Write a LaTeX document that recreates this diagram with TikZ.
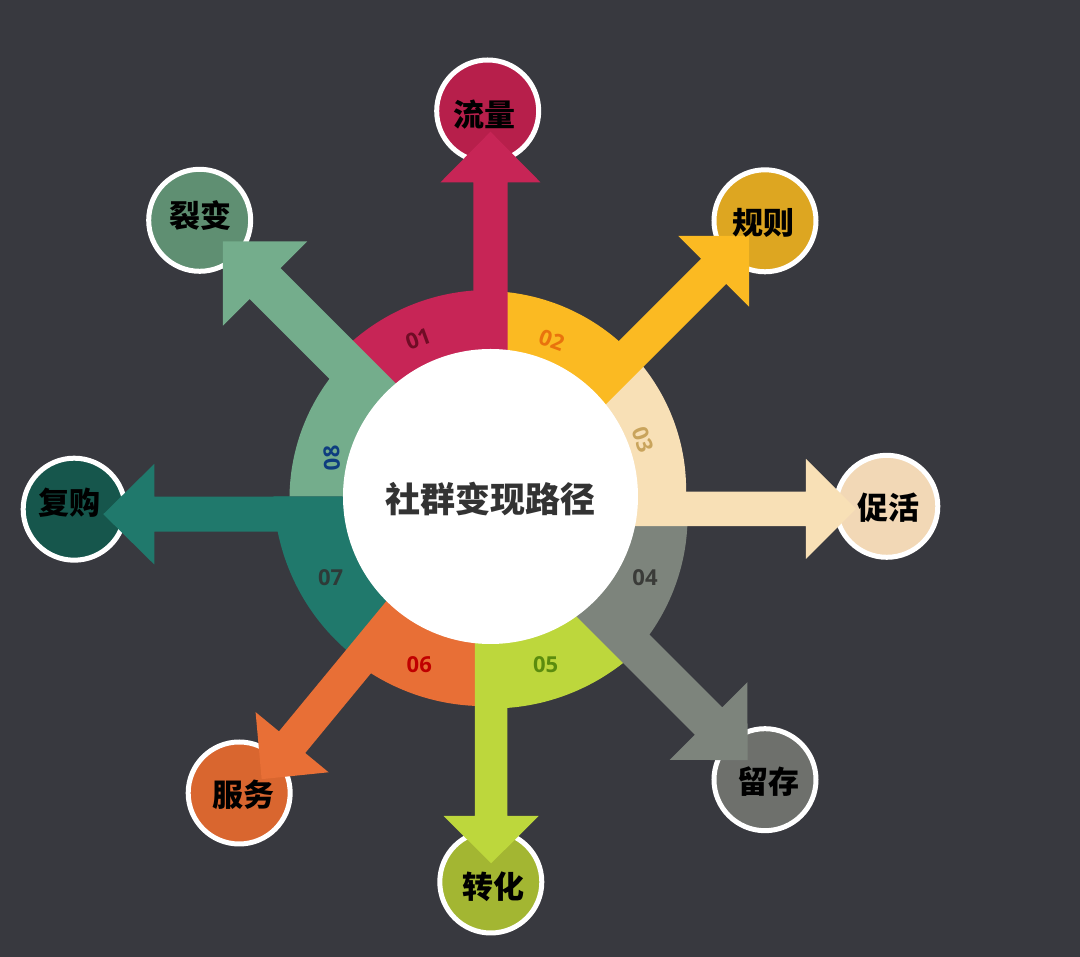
\documentclass[tikz,border=0pt]{standalone}
\usepackage{fontspec}
\setmainfont{Open Sans}
\newfontfamily\cjk{Noto Sans CJK SC}
\usetikzlibrary{positioning}

\definecolor{bgdark}{HTML}{38393F}
\definecolor{ink}{HTML}{333333}
\definecolor{c01}{HTML}{C72556} \definecolor{d01}{HTML}{B71F4B}
\definecolor{c02}{HTML}{FBBA22} \definecolor{d02}{HTML}{DDA621}
\definecolor{c03}{HTML}{F8E0B6} \definecolor{d03}{HTML}{F2D8B6}
\definecolor{c04}{HTML}{7D847C} \definecolor{d04}{HTML}{6E706C}
\definecolor{c05}{HTML}{BDD73C} \definecolor{d05}{HTML}{A3B632}
\definecolor{c06}{HTML}{E86F36} \definecolor{d06}{HTML}{D9662F}
\definecolor{c07}{HTML}{20796C} \definecolor{d07}{HTML}{16564C}
\definecolor{c08}{HTML}{74AD8C} \definecolor{d08}{HTML}{5F8F72}
\definecolor{n01}{HTML}{700C25} \definecolor{n02}{HTML}{E9730D}
\definecolor{n03}{HTML}{C9A45C} \definecolor{n04}{HTML}{3A3B38}
\definecolor{n05}{HTML}{5B8C0E} \definecolor{n06}{HTML}{C00000}
\definecolor{n07}{HTML}{2E3A38} \definecolor{n08}{HTML}{0E3D7F}

\begin{document}
\begin{tikzpicture}[x=1pt, y=1pt,
    badge/.style={circle, draw=white, line width=5pt, minimum size=102pt, inner sep=0pt},
    lbl/.style={font=\cjk\bfseries\fontsize{31}{31}\selectfont, text=black},
    num/.style={font=\bfseries\fontsize{22}{22}\selectfont, inner sep=1pt}]
    \fill [bgdark] (-490.5, -460.5) rectangle (589.5, 496.5);
    \useasboundingbox (-490.5, -460.5) rectangle (589.5, 496.5);

    % outer circles
    \foreach \n/\cx/\cy/\c in {liuliang/-2.8/385.5/d01, guize/274.5/275.7/d02, cuhuo/396.3/-9.8/d03, liucun/274.5/-283.2/d04,
        zhuanhua/0.3/-385.5/d05, fuwu/-251.3/-296.5/d06, fugou/-416.3/-12.7/d07, liebian/-290.8/276.2/d08}
        \node [badge, fill=\c] (\n) at (\cx, \cy) {};

    % ring parts
    \foreach \c/\ta/\tb/\ra/\rb in {c01/135/90/208/206.5, c02/90/45/205.5/201, c03/45/0/201/195.5, c04/0/-45/196/212,
        c05/-45/-90/213/212, c06/-90/-129.5/209.5/214, c07/-129.5/-180/210/217, c08/180/135/201/199}
        \fill [\c] (0, 0) -- plot [domain=\ta:\tb, samples=40] (\x:{\ra+(\rb-\ra)*(\x-\ta)/(\tb-\ta)}) -- cycle;

    % arrows
    \foreach \c/\p/\o/\w/\b/\a/\h in {c01/90/0/17.2/314.2/364.8/50, c02/45/1.4/17.7/317.1/367.2/50,
        c03/0/-12.4/17.2/315.5/365.5/50, c04/-45/-4.6/19.4/313/368.1/55, c05/-90/0.65/16.2/319.5/366.8/47.5,
        c06/230.5/3.2/17/315.8/363.7/47.3, c07/180/17.7/17.5/336.2/387.2/50.3, c08/135/8.8/21.8/310/369.5/59.5}
        \fill [\c, rotate=\p] (0, \o-\w) -- (\b, \o-\w) -- (\b, \o-\h) -- (\a, \o) -- (\b, \o+\h) -- (\b, \o+\w) -- (0, \o+\w) -- cycle;

    % hub
    \fill [white] (0, 0) circle (147.5);
    \node [font=\cjk\bfseries\fontsize{35}{35}\selectfont, text=ink] (title) at (0.5, -2.5) {社群变现路径};

    % step numbers
    \node [num, text=n01, rotate=20] (s01) at (-72.2, 157.2) {01};
    \node [num, text=n02, rotate=-20] (s02) at (61.2, 156.5) {02};
    \node [num, text=n03, rotate=-70] (s03) at (152.8, 56.5) {03};
    \node [num, text=n04] (s04) at (154.5, -81.2) {04};
    \node [num, text=n05] (s05) at (55.2, -167.8) {05};
    \node [num, text=n06] (s06) at (-71.2, -167.8) {06};
    \node [num, text=n07] (s07) at (-159.8, -81.2) {07};
    \node [num, text=n08, rotate=93] (s08) at (-158.8, 38.2) {08};

    % labels
    \node [lbl] (liuliang-t) at (-5.5, 381.5) {流量};
    \node [lbl] (guize-t) at (273.5, 274) {规则};
    \node [lbl] (cuhuo-t) at (398, -11.5) {促活};
    \node [lbl] (liucun-t) at (278.5, -285.5) {留存};
    \node [lbl] (zhuanhua-t) at (3.5, -390.5) {转化};
    \node [lbl] (fuwu-t) at (-247, -298.5) {服务};
    \node [lbl] (fugou-t) at (-420.5, -6.5) {复购};
    \node [lbl] (liebian-t) at (-290.2, 281.2) {裂变};
\end{tikzpicture}
\end{document}
